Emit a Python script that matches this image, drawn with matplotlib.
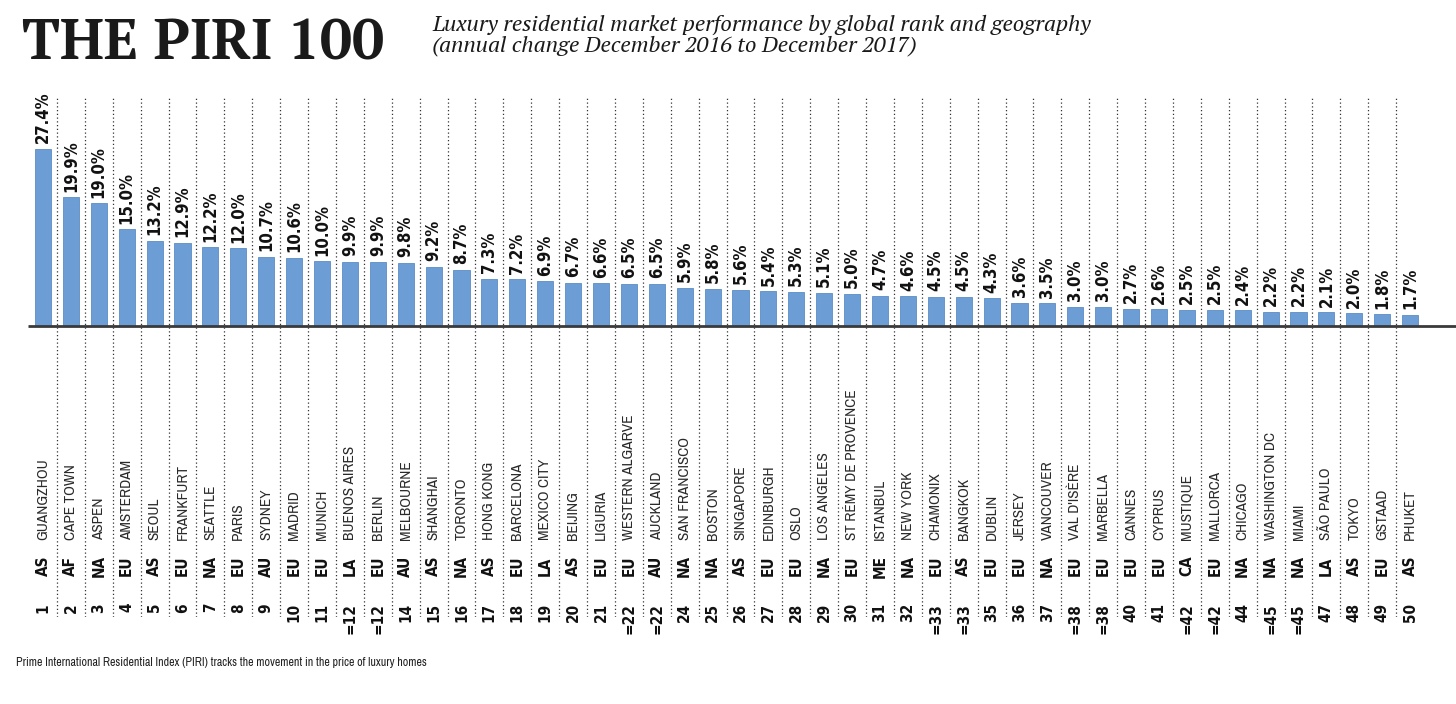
import matplotlib
matplotlib.use("Agg")
import matplotlib.pyplot as plt
from matplotlib.transforms import blended_transform_factory

# data
ranks = ["1", "2", "3", "4", "5", "6", "7", "8", "9", "10",
         "11", "=12", "=12", "14", "15", "16", "17", "18", "19", "20",
         "21", "=22", "=22", "24", "25", "26", "27", "28", "29", "30",
         "31", "32", "=33", "=33", "35", "36", "37", "=38", "=38", "40",
         "41", "=42", "=42", "44", "=45", "=45", "47", "48", "49", "50"]
regions = ["AS", "AF", "NA", "EU", "AS", "EU", "NA", "EU", "AU", "EU",
           "EU", "LA", "EU", "AU", "AS", "NA", "AS", "EU", "LA", "AS",
           "EU", "EU", "AU", "NA", "NA", "AS", "EU", "EU", "NA", "EU",
           "ME", "NA", "EU", "AS", "EU", "EU", "NA", "EU", "EU", "EU",
           "EU", "CA", "EU", "NA", "NA", "NA", "LA", "AS", "EU", "AS"]
cities = ["GUANGZHOU", "CAPE TOWN", "ASPEN", "AMSTERDAM", "SEOUL", "FRANKFURT",
          "SEATTLE", "PARIS", "SYDNEY", "MADRID", "MUNICH", "BUENOS AIRES",
          "BERLIN", "MELBOURNE", "SHANGHAI", "TORONTO", "HONG KONG", "BARCELONA",
          "MEXICO CITY", "BEIJING", "LIGURIA", "WESTERN ALGARVE", "AUCKLAND",
          "SAN FRANCISCO", "BOSTON", "SINGAPORE", "EDINBURGH", "OSLO",
          "LOS ANGELES", "ST RÉMY DE PROVENCE", "ISTANBUL", "NEW YORK",
          "CHAMONIX", "BANGKOK", "DUBLIN", "JERSEY", "VANCOUVER", "VAL D'ISÈRE",
          "MARBELLA", "CANNES", "CYPRUS", "MUSTIQUE", "MALLORCA", "CHICAGO",
          "WASHINGTON DC", "MIAMI", "SÃO PAULO", "TOKYO", "GSTAAD", "PHUKET"]
change = [27.4, 19.9, 19.0, 15.0, 13.2, 12.9, 12.2, 12.0, 10.7, 10.6,
          10.0, 9.9, 9.9, 9.8, 9.2, 8.7, 7.3, 7.2, 6.9, 6.7,
          6.6, 6.5, 6.5, 5.9, 5.8, 5.6, 5.4, 5.3, 5.1, 5.0,
          4.7, 4.6, 4.5, 4.5, 4.3, 3.6, 3.5, 3.0, 3.0, 2.7,
          2.6, 2.5, 2.5, 2.4, 2.2, 2.2, 2.1, 2.0, 1.8, 1.7]

sans = ["Archivo Narrow", "DejaVu Sans"]
bold = dict(family=["DejaVu Sans"], fontstretch="condensed", fontweight="bold")
serif = ["PT Serif", "Liberation Serif", "DejaVu Serif"]

W, H = 1456, 704
fig = plt.figure(figsize=(W / 100, H / 100), dpi=100)

# axes placed in pixel terms: baseline at y=326, top 92, bottom 617
top_px, bot_px = 92, 617
ax = fig.add_axes([0 / W, 1 - bot_px / H, 1, (bot_px - top_px) / H])
px_per_unit = 6.46
ax.set_ylim(-(bot_px - 326) / px_per_unit, (326 - top_px) / px_per_unit)
# bar centres at 43 + 27.9*i pixels
step = 27.9
ax.set_xlim(-43 / step, (W - 43) / step)
ax.axis("off")

x = list(range(len(change)))
ax.bar(x, change, width=0.58, color="#6c9dd4", edgecolor="#5b8cc6", linewidth=0.6, zorder=2)

# baseline
ax.plot([(28 - 43) / step, (W - 43) / step], [0, 0], color="#3a3a3a", lw=2, zorder=3,
        solid_capstyle="butt")

# dotted separators
ymin, ymax = ax.get_ylim()
for i in range(len(change) - 1):
    ax.plot([i + 0.5, i + 0.5], [ymin, ymax - 0.6], color="#333333", lw=0.9,
            linestyle=(0, (1, 2)), zorder=1)

# value labels
for i, v in enumerate(change):
    ax.annotate(f"{v:.1f}%", (i, v), xytext=(0, 4), textcoords="offset points",
                rotation=90, ha="center", va="bottom", fontsize=12,
                color="#111111", **bold)

trans = blended_transform_factory(ax.transData, fig.transFigure)
for i in x:
    ax.text(i, 1 - 540 / H, cities[i], rotation=90, ha="center", va="bottom",
            fontsize=11, family=sans, color="#2a2a2a", transform=trans)
    ax.text(i, 1 - 566 / H, regions[i], rotation=90, ha="center", va="center",
            fontsize=11, color="#111111", transform=trans, **bold)
    ax.text(i, 1 - 603 / H, ranks[i], rotation=90, ha="center", va="top",
            fontsize=11, color="#111111", transform=trans, **bold)

# titles
fig.text(22 / W, 1 - 60 / H, "THE PIRI 100", fontsize=41, fontweight="bold",
         family=serif, color="#1a1a1a", ha="left", va="baseline")
fig.text(432 / W, 1 - 31 / H, "Luxury residential market performance by global rank and geography",
         fontsize=16.2, style="italic", family=serif, color="#1a1a1a", ha="left", va="baseline")
fig.text(432 / W, 1 - 51 / H, "(annual change December 2016 to December 2017)",
         fontsize=16.2, style="italic", family=serif, color="#1a1a1a", ha="left", va="baseline")

fig.text(16 / W, 1 - 663 / H,
         "Prime International Residential Index (PIRI) tracks the movement in the price of luxury homes",
         fontsize=8.6, family=sans, color="#222222", ha="left", va="center")

fig.savefig("out.png", dpi=100)
